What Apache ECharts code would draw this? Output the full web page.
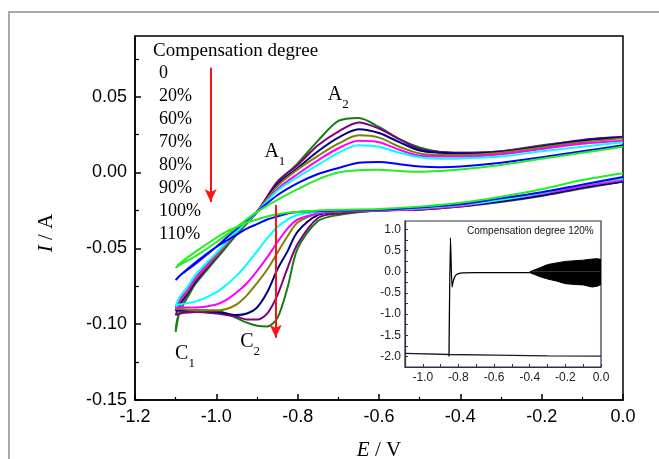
<!DOCTYPE html>
<html>
<head>
<meta charset="utf-8">
<script src="https://cdn.jsdelivr.net/npm/echarts@6/dist/echarts.min.js"></script>
<style>
html, body { margin: 0; padding: 0; background: #fff; }
#main { width: 659px; height: 459px; }
</style>
</head>
<body>
<div id="main"></div>
<script>
// potentials (V): cathodic sweep 0 -> -1.1, anodic sweep -1.1 -> 0
var eCat = [0, -0.1, -0.2, -0.3, -0.4, -0.5, -0.6, -0.7, -0.75, -0.8, -0.825, -0.85, -0.875, -0.9, -0.925, -0.95, -0.975, -1.0, -1.05, -1.09, -1.1];
var eAno = [-1.1, -1.09, -1.07, -1.05, -1.0, -0.95, -0.9, -0.85, -0.8, -0.75, -0.7, -0.65, -0.6, -0.55, -0.5, -0.45, -0.4, -0.3, -0.2, -0.1, 0];

// currents (A), one pair of arrays per compensation degree
var cat0 = [-0.0005, -0.005, -0.011, -0.016, -0.020, -0.0225, -0.024, -0.0245, -0.025, -0.026, -0.0265, -0.0275, -0.029, -0.031, -0.033, -0.036, -0.039, -0.043, -0.052, -0.060, -0.063];
var ano0 = [-0.063, -0.061, -0.058, -0.055, -0.046, -0.036, -0.026, -0.018, -0.011, -0.0045, 0.0, 0.0015, 0.0018, 0.001, 0.0005, 0.001, 0.002, 0.005, 0.009, 0.013, 0.017];
var cat20 = [-0.003, -0.008, -0.013, -0.017, -0.021, -0.023, -0.0245, -0.025, -0.0255, -0.026, -0.027, -0.029, -0.031, -0.034, -0.037, -0.041, -0.045, -0.049, -0.059, -0.068, -0.071];
var ano20 = [-0.071, -0.068, -0.064, -0.060, -0.049, -0.037, -0.026, -0.015, -0.007, -0.001, 0.003, 0.0065, 0.007, 0.0055, 0.004, 0.0035, 0.004, 0.0065, 0.010, 0.014, 0.018];
var cat60 = [-0.004, -0.008, -0.0135, -0.018, -0.0215, -0.0235, -0.0245, -0.025, -0.026, -0.028, -0.031, -0.036, -0.0435, -0.052, -0.0605, -0.068, -0.074, -0.079, -0.085, -0.087, -0.088];
var ano60 = [-0.088, -0.082, -0.075, -0.067, -0.053, -0.039, -0.026, -0.012, -0.003, 0.005, 0.013, 0.018, 0.017, 0.013, 0.010, 0.009, 0.0093, 0.0105, 0.014, 0.017, 0.020];
var cat70 = [-0.005, -0.009, -0.014, -0.018, -0.022, -0.024, -0.025, -0.0255, -0.027, -0.031, -0.037, -0.046, -0.056, -0.065, -0.073, -0.079, -0.084, -0.087, -0.089, -0.089, -0.089];
var ano70 = [-0.089, -0.084, -0.077, -0.069, -0.054, -0.039, -0.026, -0.011, -0.001, 0.008, 0.016, 0.021, 0.020, 0.015, 0.011, 0.0105, 0.0105, 0.012, 0.0155, 0.019, 0.021];
var cat80 = [-0.005, -0.009, -0.014, -0.018, -0.022, -0.024, -0.025, -0.026, -0.027, -0.033, -0.042, -0.053, -0.064, -0.073, -0.081, -0.087, -0.090, -0.091, -0.091, -0.090, -0.090];
var ano80 = [-0.090, -0.085, -0.078, -0.070, -0.055, -0.040, -0.026, -0.009, 0.002, 0.011, 0.019, 0.0245, 0.023, 0.017, 0.0125, 0.0115, 0.0115, 0.013, 0.0165, 0.020, 0.0225];
var cat90 = [-0.006, -0.010, -0.015, -0.019, -0.022, -0.024, -0.025, -0.026, -0.028, -0.039, -0.052, -0.064, -0.079, -0.089, -0.093, -0.094, -0.093, -0.092, -0.091, -0.091, -0.091];
var ano90 = [-0.091, -0.086, -0.079, -0.071, -0.055, -0.040, -0.026, -0.008, 0.003, 0.014, 0.023, 0.0285, 0.026, 0.020, 0.0145, 0.013, 0.0125, 0.0135, 0.017, 0.021, 0.023];
var cat100 = [-0.006, -0.010, -0.015, -0.019, -0.0225, -0.0245, -0.025, -0.027, -0.030, -0.047, -0.063, -0.081, -0.093, -0.097, -0.097, -0.095, -0.094, -0.093, -0.092, -0.093, -0.094];
var ano100 = [-0.094, -0.088, -0.080, -0.072, -0.056, -0.040, -0.026, -0.006, 0.005, 0.018, 0.027, 0.033, 0.029, 0.022, 0.0155, 0.0135, 0.013, 0.014, 0.0175, 0.0215, 0.0235];
var cat110 = [-0.006, -0.0105, -0.0155, -0.0195, -0.0225, -0.0245, -0.025, -0.028, -0.032, -0.050, -0.076, -0.096, -0.1015, -0.101, -0.099, -0.096, -0.093, -0.091, -0.091, -0.093, -0.105];
var ano110 = [-0.105, -0.092, -0.082, -0.073, -0.057, -0.041, -0.026, -0.007, 0.006, 0.021, 0.034, 0.036, 0.030, 0.022, 0.0165, 0.0135, 0.013, 0.014, 0.018, 0.021, 0.0235];

var degrees = ['0', '20%', '60%', '70%', '80%', '90%', '100%', '110%'];

// main axis ticks
var yMajor = [-0.15, -0.1, -0.05, 0, 0.05];
var yMinor = [-0.125, -0.075, -0.025, 0.025, 0.075];

// peak labels and the two red arrows
var peakLetter = ['A', 'A', 'C', 'C'];
var peakSub = ['1', '2', '1', '2'];
var peakE = [-0.856, -0.70, -1.077, -0.917];
var peakI = [0.0117, 0.0491, -0.1216, -0.1137];
var arrow1 = [[-1.014, 0.069], [-1.014, -0.0195]];
var arrow2 = [[-0.854, -0.0214], [-0.854, -0.109]];

// inset: 120% compensation (oscillating)
var insetBaseE = [-1.1, -0.85, -0.6, -0.3, 0];
var insetBaseI = [-1.93, -1.955, -1.97, -1.985, -1.995];
var insetJumpE = [-0.853, -0.845, -0.836, -0.828, -0.815, -0.79, -0.7, -0.55, -0.4];
var insetJumpI = [-2.0, 0.8, -0.36, -0.2, -0.08, -0.03, -0.02, -0.02, -0.02];
var bandE = [-0.4, -0.37, -0.34, -0.3, -0.25, -0.2, -0.15, -0.1, -0.05, -0.02, 0];
var bandTop = [0.0, 0.05, 0.1, 0.17, 0.21, 0.245, 0.26, 0.275, 0.3, 0.31, 0.29];
var bandLow = [-0.02, -0.07, -0.12, -0.17, -0.22, -0.28, -0.3, -0.31, -0.36, -0.34, -0.3];
var insetXLabels = [-1.0, -0.8, -0.6, -0.4, -0.2, 0];
var insetXTicks = [-1.0, -0.9, -0.8, -0.7, -0.6, -0.5, -0.4, -0.3, -0.2, -0.1, 0];
var insetYLabels = [-2.0, -1.5, -1.0, -0.5, 0, 0.5, 1.0];
var insetYTicks = [-2.0, -1.75, -1.5, -1.25, -1.0, -0.75, -0.5, -0.25, 0, 0.25, 0.5, 0.75, 1.0];

var serif = 'Liberation Serif';
var sans = 'Liberation Sans';

function pairs(xs, ys) {
    return xs.map(function (x, i) { return [x, ys[i]]; });
}
function loop(cat, ano) {
    return pairs(eCat, cat).concat(pairs(eAno, ano));
}

// drawn from 110% down to 0 so the light curves sit on top
var curves = [
    ['110%', '#118011', cat110, ano110],
    ['100%', '#800080', cat100, ano100],
    ['90%', '#000080', cat90, ano90],
    ['80%', '#808000', cat80, ano80],
    ['70%', '#ff00ff', cat70, ano70],
    ['60%', '#00ffff', cat60, ano60],
    ['20%', '#0000ff', cat20, ano20],
    ['0', '#22ee22', cat0, ano0]
];

var series = curves.map(function (c) {
    return {
        name: c[0],
        type: 'line',
        xAxisIndex: 0,
        yAxisIndex: 0,
        data: loop(c[2], c[3]),
        showSymbol: false,
        smooth: 0.3,
        lineStyle: { color: c[1], width: 2 },
        itemStyle: { color: c[1] },
        emphasis: { disabled: true }
    };
});

series[0].markLine = {
    silent: true,
    symbol: ['none', 'arrow'],
    symbolSize: [9, 13],
    lineStyle: { color: '#ff1111', width: 2, type: 'solid' },
    label: { show: false },
    data: [
        [{ coord: arrow1[0] }, { coord: arrow1[1] }],
        [{ coord: arrow2[0] }, { coord: arrow2[1] }]
    ]
};
series[0].markPoint = {
    silent: true,
    symbol: 'circle',
    symbolSize: 0,
    label: {
        show: true,
        position: 'inside',
        color: '#000',
        formatter: function (p) { return '{b|' + p.data.letter + '}{s|' + p.data.sub + '}'; },
        rich: {
            b: { fontFamily: serif, fontSize: 20, lineHeight: 26, verticalAlign: 'top', color: '#000' },
            s: { fontFamily: serif, fontSize: 13, lineHeight: 26, verticalAlign: 'bottom', color: '#000' }
        }
    },
    data: peakE.map(function (e, i) {
        return { coord: [e, peakI[i]], letter: peakLetter[i], sub: peakSub[i] };
    })
};

var inset = { type: 'line', xAxisIndex: 1, yAxisIndex: 1, showSymbol: false, emphasis: { disabled: true } };

series.push(
    Object.assign({}, inset, { data: pairs(insetBaseE, insetBaseI), lineStyle: { color: '#1a1a2a', width: 1.3 } }),
    Object.assign({}, inset, { data: pairs(insetJumpE, insetJumpI), smooth: 0.2, lineStyle: { color: '#000', width: 1.3 } }),
    Object.assign({}, inset, {
        data: pairs(bandE, bandTop), lineStyle: { color: '#000', width: 1 },
        areaStyle: { color: '#000', opacity: 1 }
    }),
    Object.assign({}, inset, {
        data: pairs(bandE, bandLow), lineStyle: { color: '#000', width: 1 },
        areaStyle: { color: '#000', opacity: 1 }
    })
);

var chart = echarts.init(document.getElementById('main'));

chart.setOption({
    backgroundColor: '#fff',
    animation: false,
    title: [
        {
            text: 'Compensation degree', left: 153, top: 42, padding: 0,
            textStyle: { fontFamily: serif, fontSize: 19, fontWeight: 'normal', color: '#000' }
        },
        {
            text: 'Compensation degree 120%', left: 467, top: 226, padding: 0,
            textStyle: { fontFamily: sans, fontSize: 10, fontWeight: 'normal', color: '#111' }
        }
    ],
    legend: {
        data: degrees,
        orient: 'vertical',
        left: 154,
        top: 62,
        padding: 0,
        itemGap: 0,
        itemWidth: 0,
        itemHeight: 23,
        icon: 'none',
        selectedMode: false,
        textStyle: { fontFamily: serif, fontSize: 18, lineHeight: 23, color: '#000' }
    },
    grid: [
        { left: 135, top: 36, right: 36, bottom: 59, outerBoundsMode: 'none', show: true, borderColor: '#000', borderWidth: 1.5, backgroundColor: 'transparent' },
        { left: 405, top: 221, right: 58, bottom: 92, outerBoundsMode: 'none', show: true, borderColor: '#3b2b4b', borderWidth: 1.2, backgroundColor: '#fff' },
        { left: 135, top: 36, right: 36, bottom: 59, outerBoundsMode: 'none' }
    ],
    xAxis: [
        {
            type: 'value', gridIndex: 0, min: -1.2, max: 0, interval: 0.2,
            name: '{i|E} / V', nameLocation: 'middle', nameGap: 40,
            nameTextStyle: {
                fontFamily: serif, fontSize: 21, color: '#000',
                rich: { i: { fontFamily: serif, fontSize: 21, fontStyle: 'italic', color: '#000' } }
            },
            axisLine: { show: true, onZero: false, lineStyle: { color: '#000', width: 1.5 } },
            axisTick: { show: true, inside: true, length: 6, lineStyle: { color: '#000', width: 1.5 } },
            minorTick: { show: true, splitNumber: 2, length: 3, lineStyle: { color: '#000', width: 1.2 } },
            axisLabel: {
                fontFamily: sans, fontSize: 18, color: '#000', margin: 8,
                formatter: function (v) { return v.toFixed(1); }
            },
            splitLine: { show: false }
        },
        {
            type: 'value', gridIndex: 1, min: -1.1, max: 0,
            axisLine: { show: true, onZero: false, lineStyle: { color: '#3b2b4b', width: 1.2 } },
            axisTick: { show: true, inside: true, length: 3, customValues: insetXTicks, lineStyle: { color: '#3b2b4b' } },
            axisLabel: {
                customValues: insetXLabels, fontFamily: sans, fontSize: 12, color: '#222', margin: 5,
                formatter: function (v) { return v.toFixed(1); }
            },
            splitLine: { show: false }
        },
        { type: 'value', gridIndex: 2, min: -1.2, max: 0, show: false, axisLine: { onZero: false } }
    ],
    yAxis: [
        {
            type: 'value', gridIndex: 0, min: -0.15, max: 0.09,
            axisLine: { show: true, onZero: false, lineStyle: { color: '#000', width: 1.5 } },
            axisTick: { show: true, inside: true, length: 6, customValues: yMajor, lineStyle: { color: '#000', width: 1.5 } },
            axisLabel: {
                customValues: yMajor, fontFamily: sans, fontSize: 18, color: '#000', margin: 8,
                formatter: function (v) { return v.toFixed(2); }
            },
            splitLine: { show: false }
        },
        {
            type: 'value', gridIndex: 1, min: -2.25, max: 1.2,
            axisLine: { show: true, onZero: false, lineStyle: { color: '#3b2b4b', width: 1.2 } },
            axisTick: { show: true, inside: true, length: 3, customValues: insetYTicks, lineStyle: { color: '#3b2b4b' } },
            axisLabel: {
                customValues: insetYLabels, fontFamily: sans, fontSize: 12, color: '#222', margin: 4,
                formatter: function (v) { return v.toFixed(1); }
            },
            splitLine: { show: false }
        },
        {
            type: 'value', gridIndex: 2, min: -0.15, max: 0.09,
            axisLine: { show: false, onZero: false },
            axisTick: { show: true, inside: true, length: 4, customValues: yMinor, lineStyle: { color: '#000', width: 1.2 } },
            axisLabel: { show: false },
            splitLine: { show: false }
        }
    ],
    graphic: [
        {
            type: 'rect', silent: true, z: -10,
            shape: { x: 9, y: 12, width: 700, height: 500 },
            style: { fill: 'none', stroke: '#a8a8a8', lineWidth: 2 }
        },
        {
            type: 'text', silent: true, x: 46, y: 233, rotation: Math.PI / 2,
            style: {
                text: '{i|I} / A',
                fontFamily: serif, fontSize: 21, fill: '#000',
                align: 'center', verticalAlign: 'middle',
                rich: { i: { fontFamily: serif, fontSize: 21, fontStyle: 'italic', fill: '#000' } }
            }
        }
    ],
    series: series
});
</script>
</body>
</html>
